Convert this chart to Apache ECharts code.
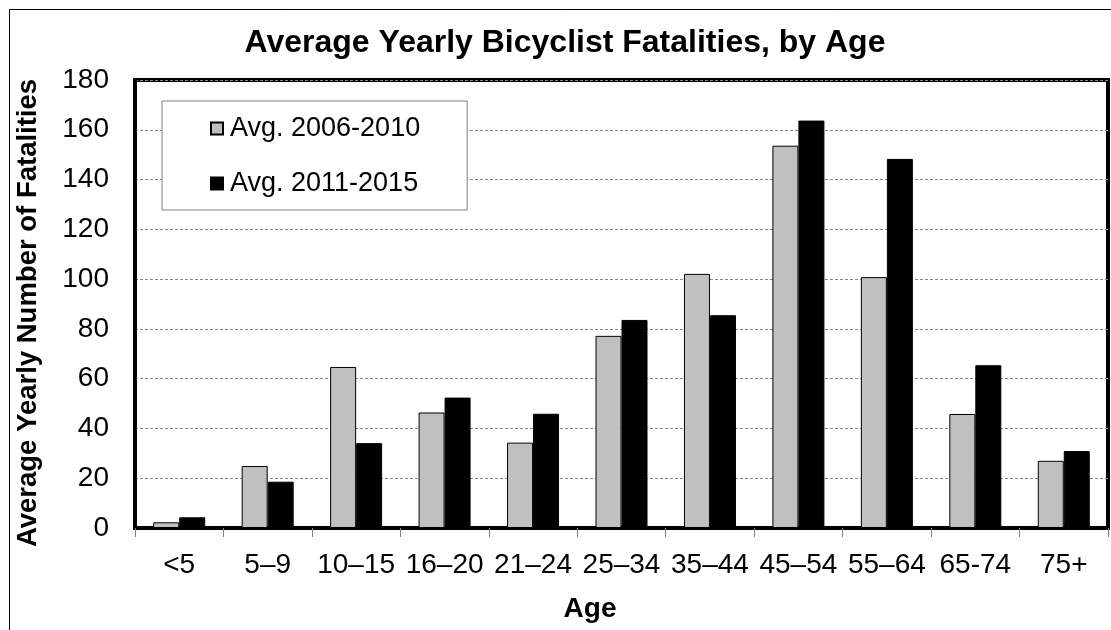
<!DOCTYPE html>
<html>
<head>
<meta charset="utf-8">
<script src="https://cdn.jsdelivr.net/npm/echarts@6/dist/echarts.min.js"></script>
<style>
  html, body { margin: 0; padding: 0; background: #fff; }
  #main { width: 1111px; height: 630px; }
</style>
</head>
<body>
<div id="main"></div>
<script>
// age groups and the two averaged periods
var ageGroups = ['<5', '5–9', '10–15', '16–20', '21–24', '25–34', '35–44', '45–54', '55–64', '65-74', '75+'];
var avg2006to2010 = [2.3, 24.9, 64.7, 46.4, 34.3, 77.2, 102.1, 153.6, 100.8, 45.8, 27.0];
var avg2011to2015 = [4.3, 18.6, 34.1, 52.4, 45.9, 83.6, 85.5, 163.7, 148.3, 65.4, 30.9];
var seriesNames = ['Avg. 2006-2010', 'Avg. 2011-2015'];

var font = "'Liberation Sans', Arial, sans-serif";
var chart = echarts.init(document.getElementById('main'));

var option = {
  backgroundColor: '#fff',
  animation: false,
  textStyle: { fontFamily: font },
  graphic: [
    { // outer frame
      type: 'rect', left: 7, top: 7, z: -1,
      shape: { width: 1110, height: 640 },
      style: { fill: null, stroke: '#000', lineWidth: 1 }
    },
    {
      type: 'text', x: 565, y: 43,
      style: {
        text: 'Average Yearly Bicyclist Fatalities, by Age',
        font: 'bold 32px ' + font, fill: '#000',
        textAlign: 'center', textVerticalAlign: 'middle'
      }
    },
    {
      type: 'text', x: 28, y: 313, rotation: Math.PI / 2,
      style: {
        text: 'Average Yearly Number of Fatalities',
        font: 'bold 27.5px ' + font, fill: '#000',
        textAlign: 'center', textVerticalAlign: 'middle'
      }
    },
    {
      type: 'text', x: 590, y: 609,
      style: {
        text: 'Age', font: 'bold 28px ' + font, fill: '#000',
        textAlign: 'center', textVerticalAlign: 'middle'
      }
    }
  ],
  legend: {
    orient: 'vertical',
    left: 162, top: 101,
    padding: [14, 47, 13, 48],
    itemGap: 28,
    itemWidth: 12, itemHeight: 12,
    icon: 'rect',
    borderColor: '#808080', borderWidth: 1,
    backgroundColor: '#fff',
    textStyle: { fontSize: 27, color: '#000', fontFamily: font, padding: [0, 0, 0, 2] },
    data: seriesNames
  },
  grid: {
    left: 135, right: 3, top: 80, bottom: 102,
    show: true, borderColor: '#000', borderWidth: 4
  },
  xAxis: {
    type: 'category',
    data: ageGroups,
    axisLine: { lineStyle: { color: '#000', width: 4 } },
    axisTick: { show: true, length: 9, lineStyle: { color: '#808080', width: 1 } },
    axisLabel: { interval: 0, fontSize: 28, color: '#000', margin: 23 }
  },
  yAxis: {
    type: 'value',
    min: 0, max: 180, interval: 20,
    axisLine: { show: true, lineStyle: { color: '#000', width: 4 } },
    axisTick: { show: false },
    axisLabel: { fontSize: 28, color: '#000', margin: 26 },
    splitLine: { lineStyle: { color: '#888', type: [3, 2], width: 1 } }
  },
  series: [
    {
      name: seriesNames[0], type: 'bar',
      data: avg2006to2010,
      barWidth: 26, barGap: '0%',
      itemStyle: { color: '#C0C0C0', borderColor: '#000', borderWidth: 1 }
    },
    {
      name: seriesNames[1], type: 'bar',
      data: avg2011to2015,
      barWidth: 26,
      itemStyle: { color: '#000', borderColor: '#000', borderWidth: 1 }
    }
  ]
};

chart.setOption(option);
</script>
</body>
</html>
